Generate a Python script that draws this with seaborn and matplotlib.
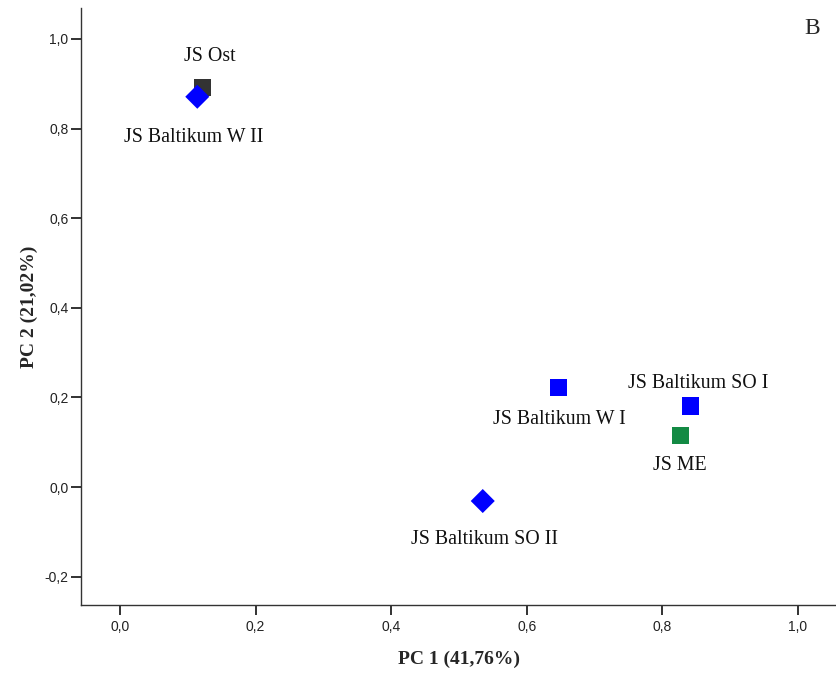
import matplotlib
matplotlib.use("Agg")
import matplotlib.pyplot as plt
import seaborn as sns
import pandas as pd
from matplotlib.ticker import FuncFormatter

labels = ["JS Ost", "JS Baltikum W II", "JS Baltikum W I", "JS Baltikum SO I", "JS ME", "JS Baltikum SO II"]
pc1 = [0.122, 0.114, 0.647, 0.841, 0.826, 0.535]
pc2 = [0.891, 0.871, 0.223, 0.181, 0.116, -0.031]
groups = ["Ost", "Baltikum", "Baltikum", "Baltikum", "ME", "Baltikum"]
shapes = ["sq", "dia", "sq", "sq", "sq", "dia"]
x_ticks = [0.0, 0.2, 0.4, 0.6, 0.8, 1.0]
y_ticks = [-0.2, 0.0, 0.2, 0.4, 0.6, 0.8, 1.0]

df = pd.DataFrame({"PC1": pc1, "PC2": pc2, "group": groups, "shape": shapes, "label": labels})

sns.set_style("white")
plt.rcParams["font.family"] = ["Liberation Serif", "DejaVu Serif"]

fig = plt.figure(figsize=(8.36, 6.75), dpi=100)
ax = fig.add_axes([81/836, 70/675, 1 - 81/836, (605-8)/675])

palette = {"Ost": "#333333", "Baltikum": "#0000FF", "ME": "#138A44"}
markers = {"sq": "s", "dia": "D"}
sns.scatterplot(data=df, x="PC1", y="PC2", hue="group", style="shape", palette=palette,
                markers=markers, s=150, linewidth=0, legend=False, ax=ax)

offsets = {
    "JS Ost": (7, 31),
    "JS Baltikum W II": (-4, -41),
    "JS Baltikum W I": (1, -32),
    "JS Baltikum SO I": (8, 22),
    "JS ME": (0, -30),
    "JS Baltikum SO II": (2, -38),
}
for _, r in df.iterrows():
    dx, dy = offsets[r["label"]]
    ax.annotate(r["label"], (r["PC1"], r["PC2"]), xytext=(dx, dy), textcoords="offset pixels",
                ha="center", va="center", fontsize=14.3, color="#111111")

ax.set_xlim(-0.0575, 1.056)
ax.set_ylim(-0.263, 1.069)
ax.set_xticks(x_ticks)
ax.set_yticks(y_ticks)
fmt = FuncFormatter(lambda v, p: f"{v:.1f}".replace(".", ",").replace("-0,0", "0,0"))
ax.xaxis.set_major_formatter(fmt)
ax.yaxis.set_major_formatter(fmt)
for t in ax.get_xticklabels() + ax.get_yticklabels():
    t.set_fontfamily(["Liberation Sans Narrow", "Liberation Sans", "DejaVu Sans"])
    t.set_fontsize(10)
    t.set_color("#222222")
ax.tick_params(axis="both", direction="out", length=7, width=1.3, color="#222222", left=True, bottom=True)
ax.tick_params(axis="y", pad=2)
ax.tick_params(axis="x", pad=4)

for side in ["top", "right"]:
    ax.spines[side].set_visible(False)
for side in ["left", "bottom"]:
    ax.spines[side].set_color("#333333")
    ax.spines[side].set_linewidth(1.0)

ax.set_xlabel("PC 1 (41,76%)", fontsize=14, fontweight="bold", labelpad=12)
ax.set_ylabel("PC 2 (21,02%)", fontsize=14, fontweight="bold", labelpad=5)
ax.text(812/836, 1 - 28/675, "B", transform=fig.transFigure, ha="center", va="center", fontsize=17)

fig.savefig("out.png", dpi=100)
